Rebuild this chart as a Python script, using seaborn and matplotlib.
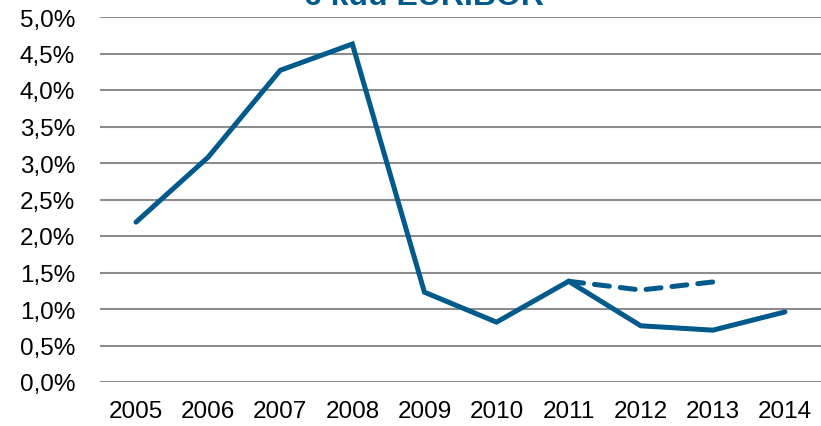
import numpy as np
import pandas as pd
import matplotlib
matplotlib.use("Agg")
import matplotlib.pyplot as plt
import seaborn as sns

# --- andmed ---
years = ["2005", "2006", "2007", "2008", "2009", "2010", "2011", "2012", "2013", "2014"]
euribor = [2.19, 3.08, 4.27, 4.63, 1.23, 0.82, 1.38, 0.77, 0.71, 0.96]
forecast_years = ["2011", "2012", "2013"]
forecast = [1.38, 1.26, 1.37]

BLUE = "#005A8C"
GRID = "#8C8C8C"

sns.set_theme(style="white")
plt.rcParams["font.family"] = ["Liberation Sans", "DejaVu Sans"]

df = pd.DataFrame({"x": np.arange(len(years)), "y": euribor})
df_f = pd.DataFrame({"x": [years.index(y) for y in forecast_years], "y": forecast})

fig = plt.figure(figsize=(8.21, 4.27), dpi=100)
ax = fig.add_axes([100 / 821, 44 / 427, 721 / 821, 365 / 427])

sns.lineplot(data=df, x="x", y="y", ax=ax, color=BLUE, linewidth=3.6,
             solid_capstyle="round", solid_joinstyle="miter")
sns.lineplot(data=df_f, x="x", y="y", ax=ax, color=BLUE, linewidth=3.6,
             dashes=False, linestyle=(0, (3, 2.2)), dash_capstyle="round")

ax.set_xlim(-0.5, len(years) - 0.5)
ax.set_ylim(0, 5.0)
ax.set_yticks(np.arange(0, 5.01, 0.5))
ax.set_yticklabels([f"{v:.1f}%".replace(".", ",") for v in np.arange(0, 5.01, 0.5)])
ax.set_xticks(np.arange(len(years)))
ax.set_xticklabels(years)
ax.set_xlabel("")
ax.set_ylabel("")

ax.grid(axis="y", color=GRID, linewidth=1.5)
ax.set_axisbelow(True)
for s in ax.spines.values():
    s.set_visible(False)
ax.tick_params(axis="y", length=0, pad=18, labelsize=17.5, colors="black")
ax.tick_params(axis="x", length=0, pad=13, labelsize=17.5, colors="black")

fig.text(424 / 821, 1 - 5 / 427, "6 kuu EURIBOR", ha="center", va="baseline",
         fontsize=23, fontweight="bold", color=BLUE)

fig.savefig("out.png", dpi=100)
